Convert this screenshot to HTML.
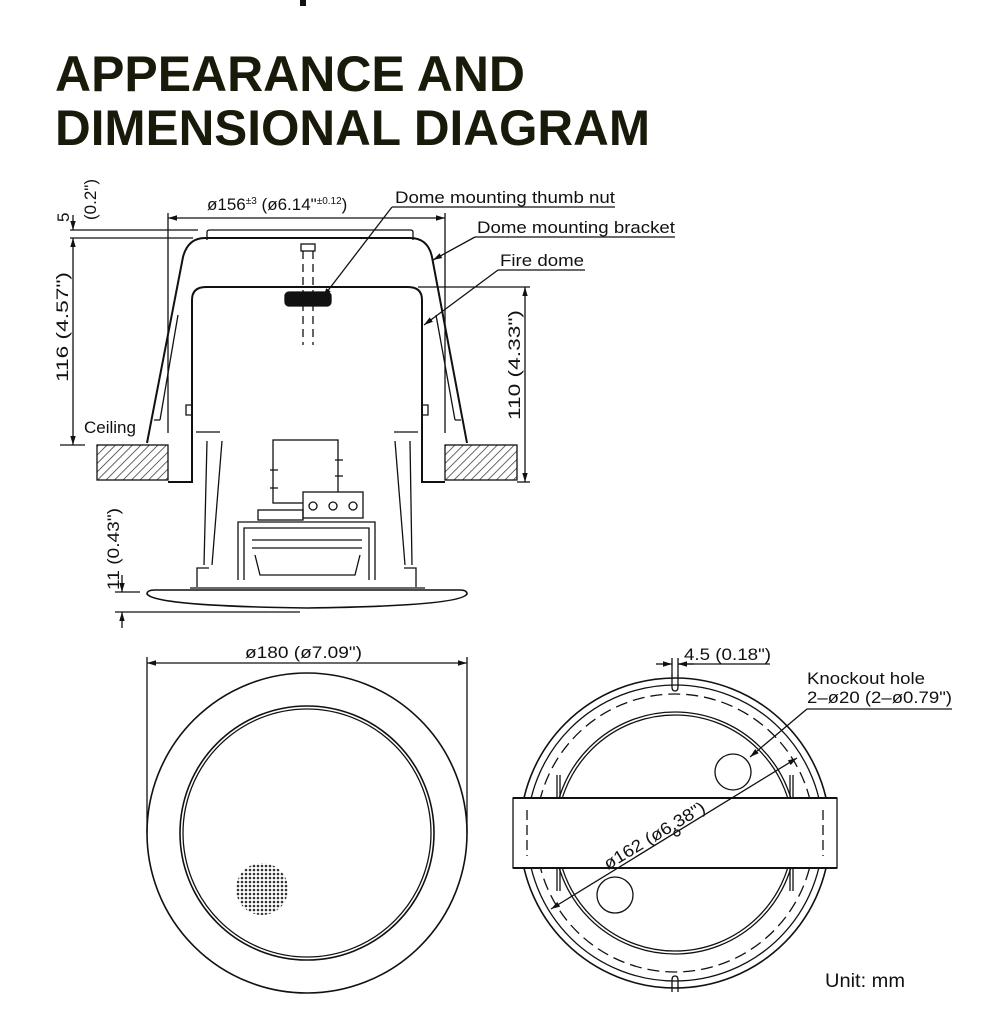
<!DOCTYPE html>
<html><head><meta charset="utf-8"><style>html,body{margin:0;padding:0;background:#fff}svg{display:block}</style></head><body>
<svg width="997" height="1024" viewBox="0 0 997 1024" xmlns="http://www.w3.org/2000/svg" font-family="Liberation Sans, sans-serif">
<defs>
<marker id="a" viewBox="0 0 10 10" refX="10" refY="5" markerWidth="7" markerHeight="7" orient="auto-start-reverse"><path d="M0,2L10,5L0,8z" fill="#111"/></marker>
<pattern id="h" width="6" height="6" patternUnits="userSpaceOnUse" patternTransform="rotate(45)"><line x1="0" y1="0" x2="0" y2="6" stroke="#222" stroke-width="1.4"/></pattern>
<pattern id="d" width="4" height="4" patternUnits="userSpaceOnUse"><rect width="4" height="4" fill="#fff"/><circle cx="2" cy="2" r="1.3" fill="#333"/></pattern>
</defs>
<rect x="300" y="0" width="6" height="6" fill="#111"/>
<g fill="#1a1a0a" font-weight="bold" font-size="50">
<text x="55" y="91" textLength="470" lengthAdjust="spacingAndGlyphs">APPEARANCE AND</text>
<text x="55" y="145" textLength="595" lengthAdjust="spacingAndGlyphs">DIMENSIONAL DIAGRAM</text>
</g>
<g stroke="#111" fill="none" stroke-width="1.3">
<line x1="168" y1="218" x2="445" y2="218" marker-start="url(#a)" marker-end="url(#a)"/>
<line x1="168" y1="213" x2="168" y2="433"/><line x1="445" y1="213" x2="445" y2="433"/>
<line x1="70" y1="230" x2="198" y2="230"/><line x1="70" y1="238" x2="193" y2="238"/>
<line x1="73" y1="215" x2="73" y2="230" marker-end="url(#a)"/>
<line x1="73" y1="238" x2="73" y2="445" marker-start="url(#a)" marker-end="url(#a)"/>
<line x1="60" y1="445" x2="85" y2="445"/>
<line x1="418" y1="287" x2="530" y2="287"/><line x1="517" y1="482" x2="530" y2="482"/>
<line x1="525" y1="287" x2="525" y2="482" marker-start="url(#a)" marker-end="url(#a)"/>
<path d="M207,240 L207,232 Q207,230 210,230 L410,230 Q413,230 413,232 L413,240"/>
<path d="M147,443 L183,257 Q188,238 205,238 L410,238 Q428,238 432,257 L467,443" stroke-width="2"/>
<path d="M160,420 L178,315 M154,420 L160,420 M455,420 L436,315 M461,420 L455,420"/>
<path d="M168,482 L192,482 L192,300 Q192,287 206,287 L408,287 Q422,287 422,300 L422,482 L445,482" stroke-width="2"/>
<rect x="97" y="445" width="71" height="35" fill="url(#h)"/>
<rect x="445" y="445" width="72" height="35" fill="url(#h)"/>
<rect x="301" y="244" width="14" height="7"/>
<path d="M303,251 V345 M313,251 V345" stroke-dasharray="8,5"/>
<rect x="285" y="292" width="46" height="14" rx="4" fill="#111"/>
<path d="M192,405 h-6 v10 h6 M196,432 h24 M422,405 h6 v10 h-6 M418,432 h-24"/>
<path d="M207,441 L204,565 M222,441 L212,565 M410,441 L412,565 M395,441 L405,565"/>
<rect x="273" y="440" width="65" height="63"/>
<rect x="303" y="492" width="60" height="26" fill="#fff"/>
<circle cx="313" cy="506" r="4"/><circle cx="333" cy="506" r="4"/><circle cx="353" cy="506" r="4"/>
<path d="M270,470 h8 M270,488 h8 M335,460 h8 M335,476 h8"/>
<rect x="258" y="510" width="45" height="10"/>
<path d="M238,580 V522 h137 v58 M244,580 V528 h125 v52"/>
<path d="M252,540 h110 M252,548 h110 M255,555 l5,20 h95 l5,-20"/>
<path d="M197,587 V568 h12 M416,587 V568 h-12 M190,588 h235"/>
<path d="M147,594 Q147,590 155,590 L460,590 Q467,590 467,594 Q460,606 307,608 Q155,606 147,594z" stroke-width="1.6"/>
<line x1="115" y1="592" x2="140" y2="592"/><line x1="115" y1="612" x2="300" y2="612"/>
<line x1="122" y1="575" x2="122" y2="592" marker-end="url(#a)"/>
<line x1="122" y1="628" x2="122" y2="612" marker-end="url(#a)"/>
<path d="M392,207 H615"/><line x1="392" y1="207" x2="323" y2="297" marker-end="url(#a)"/>
<path d="M475,237 H675"/><line x1="475" y1="237" x2="433" y2="260" marker-end="url(#a)"/>
<path d="M498,270 H585"/><line x1="498" y1="270" x2="424" y2="325" marker-end="url(#a)"/>
<line x1="147" y1="657" x2="147" y2="833"/><line x1="467" y1="657" x2="467" y2="833"/>
<line x1="147" y1="663" x2="467" y2="663" marker-start="url(#a)" marker-end="url(#a)"/>
<circle cx="307" cy="833" r="160" stroke-width="1.6"/>
<circle cx="307" cy="833" r="127" stroke-width="1.6"/>
<circle cx="307" cy="833" r="124"/>
<circle cx="262" cy="889" r="26" fill="url(#d)" stroke="none"/>
<circle cx="675" cy="833" r="155" stroke-width="1.6"/>
<circle cx="675" cy="833" r="148"/>
<circle cx="675" cy="833" r="139" stroke-dasharray="12,6"/>
<circle cx="675" cy="833" r="121"/>
<circle cx="675" cy="833" r="118"/>
<rect x="513" y="798" width="324" height="70" fill="#fff"/>
<path d="M513,798 H837 M513,868 H837" stroke-width="2"/>
<path d="M527,810 v46 M823,810 v46" stroke-dasharray="10,5"/>
<path d="M557,798 V775 M560,798 V775 M793,798 V775 M790,798 V775 M557,868 V891 M560,868 V891 M793,868 V891 M790,868 V891"/>
<circle cx="733" cy="772" r="18"/><circle cx="615" cy="895" r="18"/>
<circle cx="677" cy="833" r="3"/>
<line x1="551" y1="909" x2="797" y2="758" marker-start="url(#a)" marker-end="url(#a)"/>
<path d="M807,709 H952"/><line x1="807" y1="709" x2="750" y2="757" marker-end="url(#a)"/>
<path d="M672,675 v12 q0,4 3,4 q3,0 3,-4 v-12 M672,992 v-12 q0,-4 3,-4 q3,0 3,4 v12"/>
<line x1="672" y1="658" x2="672" y2="676"/><line x1="678" y1="658" x2="678" y2="676"/>
<line x1="656" y1="664" x2="672" y2="664" marker-end="url(#a)"/><line x1="694" y1="664" x2="678" y2="664" marker-end="url(#a)"/>
<line x1="678" y1="664" x2="770" y2="664"/>
</g>
<g fill="#111" font-size="17">
<text x="207" y="210">ø156<tspan font-size="10" dy="-6">±3</tspan><tspan dy="6"> (ø6.14"</tspan><tspan font-size="10" dy="-6">±0.12</tspan><tspan dy="6">)</tspan></text>
<text x="395" y="203" textLength="220" lengthAdjust="spacingAndGlyphs">Dome mounting thumb nut</text>
<text x="477" y="233" textLength="198" lengthAdjust="spacingAndGlyphs">Dome mounting bracket</text>
<text x="500" y="266" textLength="84" lengthAdjust="spacingAndGlyphs">Fire dome</text>
<text x="84" y="433">Ceiling</text>
<text transform="translate(69,222) rotate(-90)">5</text>
<text transform="translate(96,220) rotate(-90)">(0.2")</text>
<text transform="translate(68,382) rotate(-90)" textLength="110" lengthAdjust="spacingAndGlyphs">116 (4.57")</text>
<text transform="translate(520,420) rotate(-90)" textLength="110" lengthAdjust="spacingAndGlyphs">110 (4.33")</text>
<text transform="translate(119,590) rotate(-90)" textLength="82" lengthAdjust="spacingAndGlyphs">11 (0.43")</text>
<text x="245" y="658" textLength="117" lengthAdjust="spacingAndGlyphs">ø180 (ø7.09")</text>
<text x="684" y="660" textLength="87" lengthAdjust="spacingAndGlyphs">4.5 (0.18")</text>
<text x="807" y="684" textLength="118" lengthAdjust="spacingAndGlyphs">Knockout hole</text>
<text x="807" y="703" textLength="145" lengthAdjust="spacingAndGlyphs">2–ø20 (2–ø0.79")</text>
<text transform="translate(608,870) rotate(-31)" textLength="115" lengthAdjust="spacingAndGlyphs">ø162 (ø6.38")</text>
<text x="825" y="987" font-size="19" textLength="80" lengthAdjust="spacingAndGlyphs">Unit: mm</text>
</g>
</svg>
</body></html>
